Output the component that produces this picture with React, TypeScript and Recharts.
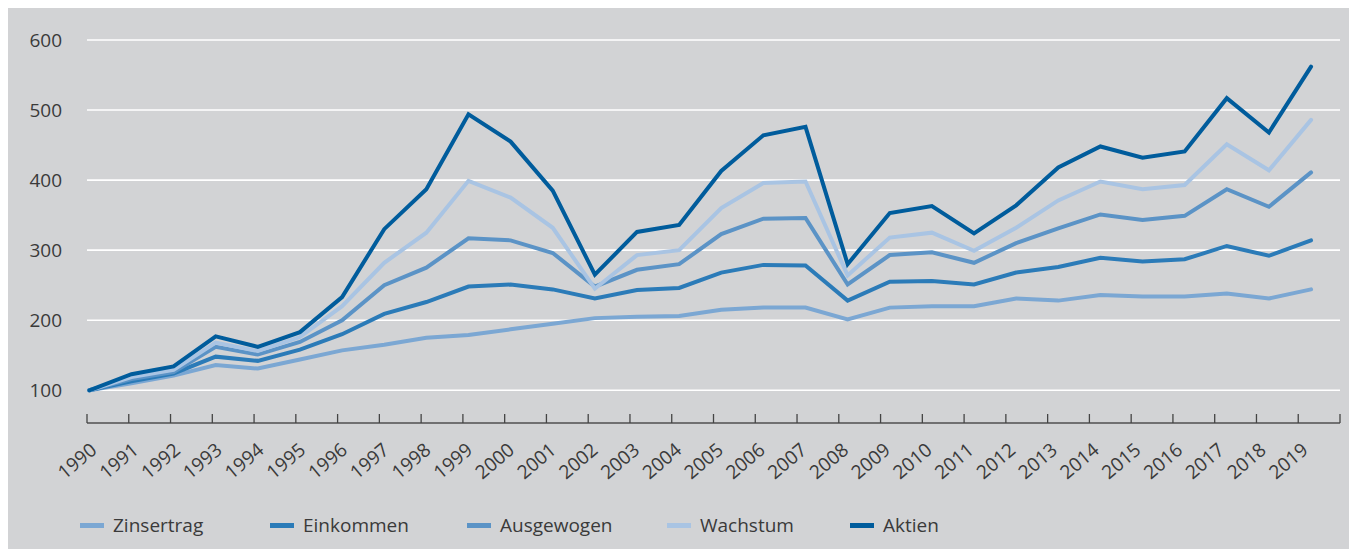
import { LineChart, Line, XAxis, YAxis, CartesianGrid, Legend } from "recharts";

const years = [
  1990, 1991, 1992, 1993, 1994, 1995, 1996, 1997, 1998, 1999,
  2000, 2001, 2002, 2003, 2004, 2005, 2006, 2007, 2008, 2009,
  2010, 2011, 2012, 2013, 2014, 2015, 2016, 2017, 2018, 2019,
];

const zinsertrag = [
  100, 110, 121, 136, 131, 144, 157, 165, 175, 179,
  187, 195, 203, 205, 206, 215, 218, 218, 201, 218,
  220, 220, 231, 228, 236, 234, 234, 238, 231, 244,
];
const einkommen = [
  100, 113, 124, 148, 142, 158, 180, 209, 226, 248,
  251, 244, 231, 243, 246, 268, 279, 278, 228, 255,
  256, 251, 268, 276, 289, 284, 287, 306, 292, 314,
];
const ausgewogen = [
  100, 116, 126, 162, 151, 169, 200, 250, 275, 317,
  314, 296, 248, 272, 280, 323, 345, 346, 251, 293,
  297, 282, 310, 331, 351, 343, 349, 387, 362, 411,
];
const wachstum = [
  100, 119, 129, 168, 156, 176, 220, 282, 325, 399,
  375, 332, 245, 293, 300, 360, 396, 398, 264, 318,
  325, 299, 332, 371, 398, 387, 393, 451, 414, 486,
];
const aktien = [
  100, 123, 134, 177, 162, 183, 233, 330, 387, 494,
  455, 385, 265, 326, 336, 413, 464, 476, 280, 353,
  363, 324, 364, 418, 448, 432, 441, 517, 468, 562,
];

const yTicks = [100, 200, 300, 400, 500, 600];
// year boundaries: one tick each side of every year band
const bandTicks = Array.from({ length: years.length + 1 }, (_, i) => i);

const seriesDefs = [
  { key: "zinsertrag", name: "Zinsertrag", color: "#7ba7d3" },
  { key: "einkommen", name: "Einkommen", color: "#2b7bb8" },
  { key: "ausgewogen", name: "Ausgewogen", color: "#5b93c6" },
  { key: "wachstum", name: "Wachstum", color: "#a9c4e3" },
  { key: "aktien", name: "Aktien", color: "#005c9c" },
];
const legendItemWidths = [190, 197, 200, 183, 120];

const data = years.map((year, i) => ({
  idx: i,
  year,
  zinsertrag: zinsertrag[i],
  einkommen: einkommen[i],
  ausgewogen: ausgewogen[i],
  wachstum: wachstum[i],
  aktien: aktien[i],
}));

const FONT = "'Open Sans', sans-serif";
const TEXT = "#3a3a3a";

function YearTick(props: any) {
  const { x, y, payload } = props;
  const v = Math.round(payload.value as number);
  const lx = x + 11;
  const ly = y + 29;
  return (
    <g>
      <line x1={x} x2={x} y1={y - 9} y2={y} stroke="#444" strokeWidth={1.3} />
      {v < years.length && (
        <text
          x={lx}
          y={ly}
          textAnchor="end"
          fontSize={19}
          fontFamily={FONT}
          fill={TEXT}
          transform={`rotate(-40 ${lx} ${ly})`}
        >
          {years[v]}
        </text>
      )}
    </g>
  );
}

function LegendContent() {
  return (
    <div style={{ display: "flex", alignItems: "center", height: 40, fontFamily: FONT, fontSize: 19, color: TEXT }}>
      {seriesDefs.map((s, i) => (
        <div key={s.key} style={{ display: "flex", alignItems: "center", width: legendItemWidths[i] }}>
          <span style={{ display: "inline-block", width: 24, height: 5, background: s.color, marginRight: 9 }} />
          <span>{s.name}</span>
        </div>
      ))}
    </div>
  );
}

export default function App() {
  return (
    <div style={{ width: 1349, height: 541, background: "#d2d3d5" }}>
      <LineChart width={1349} height={541} data={data} margin={{ top: 32, right: 17, left: 0, bottom: 0 }}>
        <CartesianGrid horizontal vertical={false} stroke="#ffffff" strokeWidth={1.6} />
        <XAxis
          xAxisId={0}
          dataKey="idx"
          type="number"
          domain={[0, years.length]}
          ticks={bandTicks}
          allowDataOverflow
          interval={0}
          height={86}
          axisLine={{ stroke: "#444", strokeWidth: 1.3 }}
          tickLine={false}
          tickSize={0}
          tickMargin={0}
          tick={<YearTick />}
        />
        <XAxis
          xAxisId="data"
          dataKey="year"
          type="number"
          domain={[1989.945, 2019.687]}
          allowDataOverflow
          hide
        />
        <YAxis
          type="number"
          domain={[53.3, 600]}
          ticks={yTicks}
          allowDataOverflow
          width={79}
          axisLine={false}
          tickLine={false}
          tickSize={0}
          tickMargin={25}
          tick={{ fontSize: 19, fontFamily: FONT, fill: TEXT }}
        />
        <Legend
          verticalAlign="bottom"
          content={<LegendContent />}
          wrapperStyle={{ left: 72, bottom: 4, width: 1000, height: 40 }}
        />
        {seriesDefs.map((s) => (
          <Line
            key={s.key}
            xAxisId="data"
            dataKey={s.key}
            name={s.name}
            stroke={s.color}
            strokeWidth={4}
            strokeLinecap="round"
            dot={false}
            activeDot={false}
            isAnimationActive={false}
          />
        ))}
      </LineChart>
    </div>
  );
}
